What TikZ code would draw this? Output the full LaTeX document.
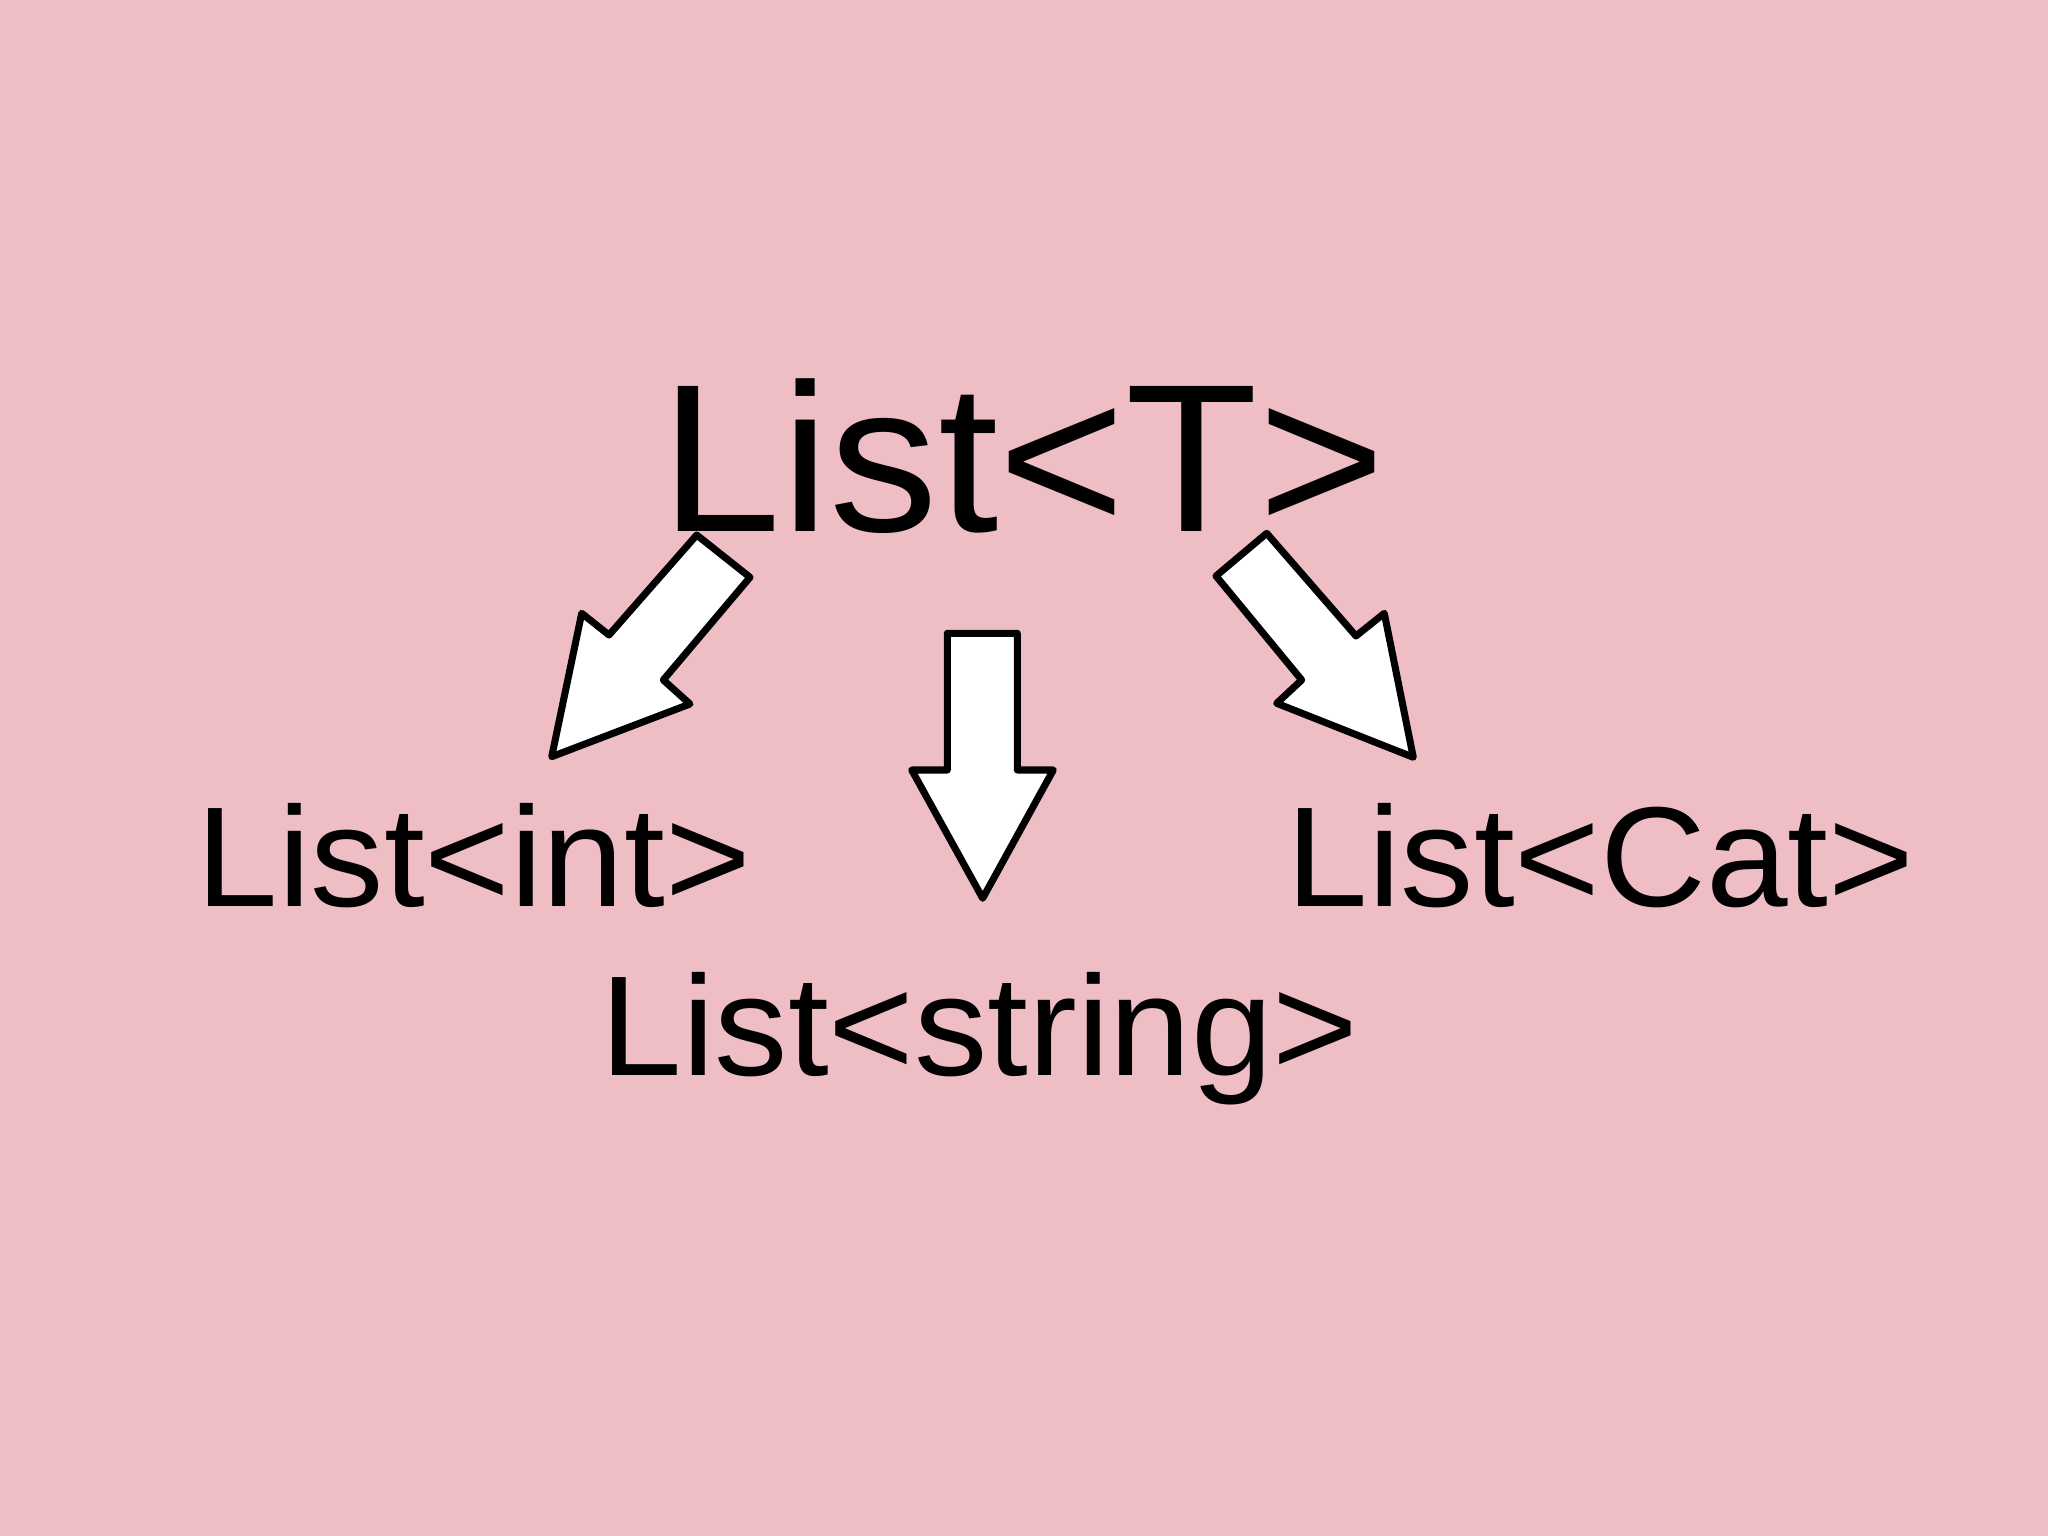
\documentclass[tikz,border=0pt]{standalone}
\usepackage{fontspec}
\setmainfont[FakeStretch=1.03]{Liberation Sans}
\definecolor{bgpink}{RGB}{239,190,197}
\tikzset{
  bigtxt/.style={inner sep=0pt, anchor=base west, font=\fontsize{60}{72}\selectfont},
  smalltxt/.style={inner sep=0pt, anchor=base west, font=\fontsize{40.5}{48}\selectfont},
  fatarrow/.style={draw=black, fill=white, line width=2pt, line join=round}
}
\begin{document}
\begin{tikzpicture}[yscale=-1]
\fill[bgpink] (0,0) rectangle (20.48,15.36);
\useasboundingbox (0,0) rectangle (20.48,15.36);
% texts
\node[bigtxt] (top) at (6.60,5.32) {List<T>};
\node[smalltxt] (int) at (1.96,9.06) {List<int>};
\node[smalltxt] (str) at (6.00,10.75) {List<string>};
\node[smalltxt] (cat) at (12.86,9.06) {List<Cat>};
% left arrow
\draw[fatarrow] (6.967,5.35) -- (7.50,5.773) -- (6.633,6.80) -- (6.90,7.04) -- (5.517,7.567) -- (5.817,6.133) -- (6.09,6.35) -- cycle;
% middle arrow
\draw[fatarrow] (9.473,6.333) -- (10.173,6.333) -- (10.173,7.70) -- (10.533,7.70) -- (9.827,8.983) -- (9.117,7.70) -- (9.473,7.70) -- cycle;
% right arrow
\draw[fatarrow] (12.667,5.333) -- (12.16,5.76) -- (13.017,6.80) -- (12.767,7.033) -- (14.133,7.573) -- (13.843,6.133) -- (13.56,6.36) -- cycle;
\end{tikzpicture}
\end{document}
